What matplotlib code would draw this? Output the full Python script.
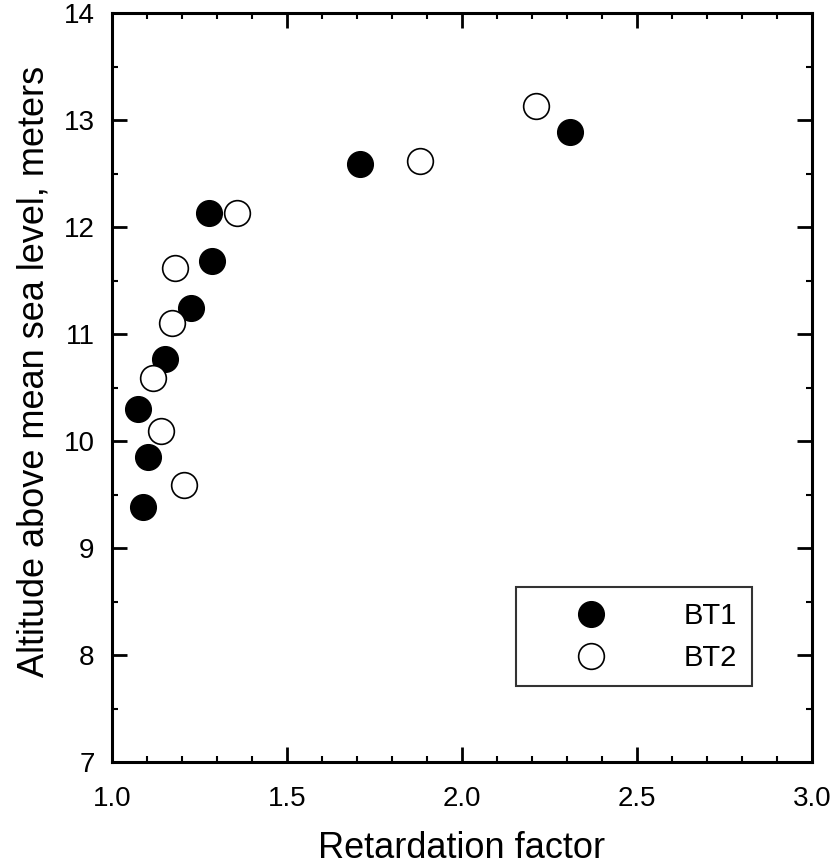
import matplotlib
matplotlib.use("Agg")
import matplotlib.pyplot as plt
from matplotlib.ticker import MultipleLocator, FormatStrFormatter

plt.rcParams['font.family'] = ['Liberation Sans', 'DejaVu Sans']

bt1_x = [1.089, 1.103, 1.074, 1.151, 1.226, 1.286, 1.277, 1.709, 2.309]
bt1_y = [9.38, 9.85, 10.30, 10.77, 11.24, 11.68, 12.13, 12.59, 12.89]
bt2_x = [1.206, 1.140, 1.117, 1.171, 1.180, 1.357, 1.880, 2.211]
bt2_y = [9.59, 10.09, 10.59, 11.10, 11.62, 12.13, 12.62, 13.13]

fig = plt.figure(figsize=(8.36, 8.67), dpi=100)
ax = fig.add_axes([0.134, 0.121, 0.837, 0.864])

ax.plot(bt1_x, bt1_y, 'o', ms=18.5, mfc='black', mec='black', mew=1, label='BT1', zorder=3)
ax.plot(bt2_x, bt2_y, 'o', ms=18.5, mfc='white', mec='black', mew=1.2, label='BT2', zorder=3)

ax.set_xlim(1.0, 3.0)
ax.set_ylim(7, 14)
ax.xaxis.set_major_locator(MultipleLocator(0.5))
ax.xaxis.set_minor_locator(MultipleLocator(0.1))
ax.yaxis.set_major_locator(MultipleLocator(1))
ax.yaxis.set_minor_locator(MultipleLocator(0.5))
ax.xaxis.set_major_formatter(FormatStrFormatter('%.1f'))

for s in ax.spines.values():
    s.set_linewidth(2.2)
ax.tick_params(which='both', direction='in', top=True, right=True, labelsize=20, colors='black')
ax.tick_params(which='major', length=11, width=2)
ax.tick_params(which='minor', length=4.5, width=1.5)
ax.tick_params(axis='x', which='major', pad=17)
ax.tick_params(axis='y', which='major', pad=12.5)

ax.set_xlabel('Retardation factor', fontsize=26, labelpad=14)
ax.set_ylabel('Altitude above mean sea level, meters', fontsize=26)
ax.yaxis.set_label_coords(-0.087, 0.522)

leg = ax.legend(loc='lower right', bbox_to_anchor=(0.914, 0.101), fontsize=21,
                frameon=True, fancybox=False, edgecolor='black', handletextpad=1.13,
                borderpad=0.5, labelspacing=0.48, handlelength=4.1,
                borderaxespad=0)
leg.get_frame().set_linewidth(1.5)

fig.savefig('out.png', dpi=100)
